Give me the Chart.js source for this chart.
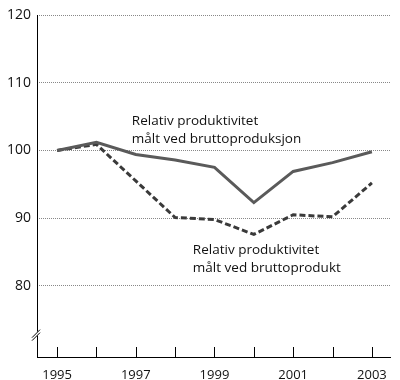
<!DOCTYPE html>
<html><head><meta charset="utf-8">
<script src="https://cdn.jsdelivr.net/npm/chart.js@4/dist/chart.umd.min.js"></script>
<style>html,body{margin:0;padding:0;background:#fff}#wrap{width:400px;height:380px}</style>
</head><body><div id="wrap"><canvas id="c" width="400" height="380"></canvas></div>
<script>
const years = [1995,1996,1997,1998,1999,2000,2001,2002,2003];
const brutproduksjon = [100,101.2,99.4,98.6,97.5,92.3,96.9,98.2,99.8];
const brutprodukt = [100,100.9,95.5,90.1,89.8,87.6,90.5,90.2,95.2];
const yTicks = [80,90,100,110,120];
const labelA = ["Relativ produktivitet","målt ved bruttoproduksjon"];
const labelB = ["Relativ produktivitet","målt ved bruttoprodukt"];

const FONT = "'Open Sans', sans-serif";
const pts = arr => years.map((y,i)=>({x:y,y:arr[i]}));

const overlay = {
  id:'overlay',
  afterDraw(chart){
    const ctx = chart.ctx, xs = chart.scales.x, ys = chart.scales.y;
    const bottom = chart.chartArea.bottom, left = chart.chartArea.left;
    ctx.save();
    ctx.strokeStyle = '#000'; ctx.lineWidth = 1; ctx.setLineDash([]);
    // y axis line (solid)
    const lx = Math.round(left)+0.5;
    ctx.beginPath(); ctx.moveTo(lx, chart.chartArea.top); ctx.lineTo(lx, bottom); ctx.stroke();
    // x ticks drawn upward
    years.forEach(y=>{
      const px = Math.round(xs.getPixelForValue(y))+0.5;
      ctx.beginPath(); ctx.moveTo(px,bottom); ctx.lineTo(px,bottom-10); ctx.stroke();
    });
    // axis break
    const by = ys.getPixelForValue(72.8);
    ctx.fillStyle='#fff'; ctx.fillRect(left-4,by-3,8,4);
    ctx.beginPath();
    ctx.moveTo(left-5,by+3); ctx.lineTo(left+3,by-5);
    ctx.moveTo(left-5,by+6); ctx.lineTo(left+3,by-2);
    ctx.stroke();
    // annotations
    ctx.fillStyle='#111'; ctx.font = "13.5px "+FONT; ctx.textBaseline='middle'; ctx.textAlign='left';
    const ax = xs.getPixelForValue(1996.9), bx = xs.getPixelForValue(1998.45);
    ctx.fillText(labelA[0], ax, ys.getPixelForValue(104.3));
    ctx.fillText(labelA[1], ax, ys.getPixelForValue(101.6));
    ctx.fillText(labelB[0], bx, ys.getPixelForValue(85.3));
    ctx.fillText(labelB[1], bx, ys.getPixelForValue(82.6));
    ctx.restore();
  }
};

new Chart(document.getElementById('c'),{
  type:'line',
  data:{datasets:[
    {data:pts(brutproduksjon),borderColor:'#5a5a5a',borderWidth:3,pointRadius:0,tension:0,fill:false},
    {data:pts(brutprodukt),borderColor:'#3a3a3a',borderWidth:3,borderDash:[6,3],pointRadius:0,tension:0,fill:false}
  ]},
  options:{
    responsive:false,animation:false,
    layout:{padding:{top:15,right:10,left:0,bottom:0}},
    plugins:{legend:{display:false},tooltip:{enabled:false}},
    scales:{
      x:{type:'linear',min:1994.49,max:2003.46,
        afterBuildTicks(s){s.ticks=years.map(v=>({value:v}));},
        afterFit(s){s.height=23;},
        grid:{display:false},
        border:{display:true,color:'#000',width:1},
        ticks:{autoSkip:false,maxRotation:0,padding:2,color:'#111',font:{family:FONT,size:13},
          callback:v=> (v%2===1)?String(v):''}
      },
      y:{min:69.5,max:120,
        afterBuildTicks(s){s.ticks=yTicks.map(v=>({value:v}));},
        afterFit(s){s.width=37;},
        grid:{color:'#888',lineWidth:1,drawTicks:false},
        border:{display:false,dash:[1,1]},
        ticks:{padding:6,color:'#111',font:{family:FONT,size:14}}
      }
    }
  },
  plugins:[overlay]
});
</script></body></html>
